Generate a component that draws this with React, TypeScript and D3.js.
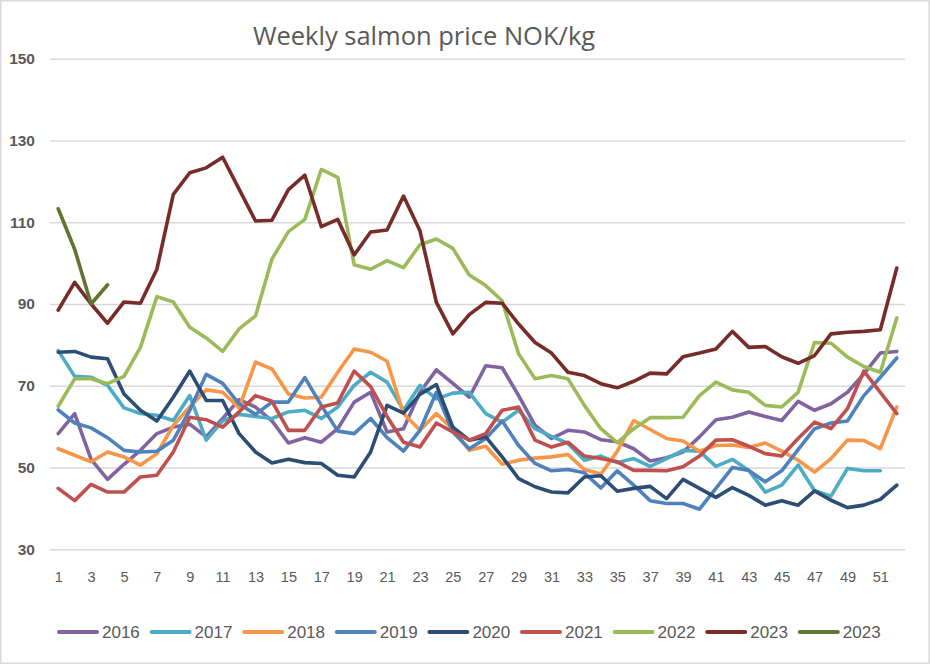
import * as d3 from "d3";
import { useEffect, useRef } from "react";

const weeks = [
  1, 2, 3, 4, 5, 6, 7, 8, 9, 10, 11, 12, 13, 14, 15, 16, 17, 18, 19, 20, 21, 22, 23, 24, 25, 26,
  27, 28, 29, 30, 31, 32, 33, 34, 35, 36, 37, 38, 39, 40, 41, 42, 43, 44, 45, 46, 47, 48, 49, 50,
  51, 52,
];
const yTicks = [30, 50, 70, 90, 110, 130, 150];
const xTickLabels = [1, 3, 5, 7, 9, 11, 13, 15, 17, 19, 21, 23, 25, 27, 29, 31, 33, 35, 37, 39, 41, 43, 45, 47, 49, 51];

const s2016 = [
  58.3, 63.2, 52, 47.1, 50.8, 54.2, 58.3, 59.9, 60.6, 57.5, 62, 66.6, 64.8, 61.4, 56, 57.3, 56.2,
  59.5, 66, 68.4, 58.7, 59.5, 68.4, 73.9, 70.6, 67.2, 74.9, 74.4, 67.6, 60.3, 57.1, 59.1, 58.7,
  56.8, 56.3, 54.6, 51.6, 52.4, 53.8, 57.5, 61.7, 62.3, 63.6, 62.5, 61.5, 66.2, 64, 65.6, 68.4,
  72.9, 78, 78.4,
];
const s2017 = [
  78.6, 72.3, 72.1, 70.1, 64.6, 63.2, 62.8, 61.5, 67.6, 56.7, 61.4, 63, 62.5, 62, 63.6, 64, 62,
  64.8, 70.1, 73.3, 70.9, 64, 70.1, 66.8, 68.2, 68.4, 63.2, 61.1, 64, 59.5, 57.6, 55.9, 51.8, 52.8,
  51.2, 52.2, 50.3, 52.2, 54.2, 54, 50.3, 52, 49.3, 44, 45.7, 50.6, 44.3, 43, 49.8, 49.2, 49.2,
];
const s2018 = [
  54.6, 53, 51.4, 53.8, 52.6, 50.6, 53.4, 60.3, 64.8, 69, 68.4, 64.6, 75.8, 74.1, 68, 67, 67.2,
  73.3, 79, 78.2, 76, 63.2, 59.1, 63.2, 59.3, 54.2, 55.2, 50.8, 51.8, 52.3, 52.6, 53.2, 49.5, 48.4,
  54, 61.5, 59.3, 57.1, 56.5, 54, 55.4, 55.5, 54.9, 56, 54, 51.8, 48.9, 52.2, 56.7, 56.6, 54.6, 64.8,
];
const s2019 = [
  64.1, 60.9, 59.7, 57.3, 54.2, 53.8, 54, 56.7, 64, 72.8, 70.6, 65.6, 63, 66, 66, 72, 65.2, 58.9,
  58.3, 62, 57.3, 54, 59.1, 68.4, 58.7, 54.6, 57.1, 61.4, 55.4, 51, 49.2, 49.5, 48.7, 45, 49.2,
  45.7, 41.9, 41.2, 41.2, 39.8, 44.9, 50, 49.3, 46.5, 49.2, 54.4, 59.5, 60.9, 61.4, 67.6, 72.1, 76.8,
];
const s2020 = [
  78.2, 78.4, 77, 76.6, 68, 64, 61.4, 67.2, 73.6, 66.4, 66.4, 58.3, 53.8, 51.1, 52, 51.2, 51, 48.1,
  47.7, 53.8, 65.2, 63.3, 67.9, 70.3, 59.9, 56.7, 57.5, 52.6, 47.3, 45.3, 44, 43.8, 47.7, 48, 44.2,
  44.9, 45.4, 42.4, 47.1, 44.9, 42.7, 45.1, 43.2, 40.8, 41.9, 40.8, 44.3, 42, 40.2, 40.8, 42.2, 45.7,
];
const s2021 = [
  44.9, 41.9, 45.9, 44, 44, 47.7, 48.1, 53.8, 62.3, 61.7, 59.9, 63.6, 67.6, 66.2, 59.1, 59.1, 64.8,
  65.8, 73.6, 69.8, 62.5, 56.2, 55, 60.9, 58.7, 56.7, 58.3, 64, 64.8, 56.7, 55, 56.2, 52.8, 52.2,
  51.4, 49.3, 49.3, 49.2, 50.2, 52.8, 56.7, 56.8, 55.2, 53.4, 52.8, 57.1, 61.1, 59.5, 64.4, 73.6,
  68.4, 63.2,
];
const s2022 = [
  65, 71.7, 71.7, 70.5, 72.3, 79.4, 91.8, 90.5, 84.3, 81.7, 78.4, 83.9, 87.1, 101, 107.7, 110.7,
  122.9, 121, 99.6, 98.5, 100.6, 98.9, 104.5, 105.9, 103.6, 97.1, 94.5, 90.8, 77.8, 71.7, 72.5,
  71.7, 65.2, 59.5, 56.1, 59.5, 62.2, 62.2, 62.3, 67.6, 70.9, 69, 68.4, 65.2, 64.8, 68.4, 80.6,
  80.4, 77, 74.7, 73.3, 86.6,
];
const s2023 = [
  88.5, 95.3, 90, 85.3, 90.5, 90.2, 98.5, 116.8, 122.1, 123.3, 125.9, 118.1, 110.3, 110.5, 118,
  121.5, 108.9, 110.7, 102, 107.6, 108.1, 116.4, 107.9, 90.4, 82.7, 87.4, 90.4, 90.2, 85.1, 80.6,
  78, 73.3, 72.5, 70.5, 69.5, 71.1, 73.1, 72.9, 77.1, 78, 79, 83.3, 79.4, 79.6, 77.1, 75.5, 77.4,
  82.7, 83.1, 83.3, 83.7, 98.8,
];
const s2023b = [113.3, 103.4, 90, 94.7];

const seriesNames = ["2016", "2017", "2018", "2019", "2020", "2021", "2022", "2023", "2023"];
const seriesValues = [s2016, s2017, s2018, s2019, s2020, s2021, s2022, s2023, s2023b];
const seriesColors = [
  "#8064A2", "#4BACC6", "#F79646", "#4F81BD", "#2C4D75", "#C0504D", "#9BBB59", "#772C2A", "#5F7530",
];

export default function App() {
  const svgRef = useRef<SVGSVGElement | null>(null);

  useEffect(() => {
    document.body.style.margin = "0";
    if (!svgRef.current) return;
    const svg = d3.select(svgRef.current);
    const width = 930;
    const height = 664;
    const margin = { top: 58.7, right: 25, bottom: 114.7, left: 50 };
    const font = "Liberation Sans, Arial, sans-serif";

    svg.selectAll("*").remove();
    svg.attr("viewBox", `0 0 ${width} ${height}`);

    svg
      .append("rect")
      .attr("x", 0.75)
      .attr("y", 0.75)
      .attr("width", width - 1.5)
      .attr("height", height - 1.5)
      .attr("fill", "#fff")
      .attr("stroke", "#D9D9D9")
      .attr("stroke-width", 1.5);

    const x = d3
      .scalePoint<number>()
      .domain(weeks)
      .range([margin.left, width - margin.right])
      .padding(0.5);

    const y = d3
      .scaleLinear()
      .domain([30, 150])
      .range([height - margin.bottom, margin.top]);

    // gridlines + y labels
    const yAxis = d3
      .axisLeft(y)
      .tickValues(yTicks)
      .tickSize(-(width - margin.left - margin.right))
      .tickPadding(15);
    const yg = svg
      .append("g")
      .attr("transform", `translate(${margin.left},0)`)
      .call(yAxis as any);
    yg.select(".domain").remove();
    yg.selectAll("line").attr("stroke", "#D9D9D9").attr("stroke-width", 1.5);
    yg.selectAll("text")
      .attr("fill", "#595959")
      .attr("font-family", font)
      .attr("font-weight", "bold")
      .attr("font-size", 15.5);

    // x labels
    const xAxis = d3
      .axisBottom(x)
      .tickValues(xTickLabels)
      .tickSize(0)
      .tickPadding(22);
    const xg = svg
      .append("g")
      .attr("transform", `translate(0,${height - margin.bottom})`)
      .call(xAxis as any);
    xg.select(".domain").remove();
    xg.selectAll("text")
      .attr("fill", "#595959")
      .attr("font-family", font)
      .attr("font-size", 14.5);

    const line = d3
      .line<number>()
      .x((_, i) => x(weeks[i]) as number)
      .y((d) => y(d));

    seriesValues.forEach((vals, i) => {
      svg
        .append("path")
        .datum(vals)
        .attr("fill", "none")
        .attr("stroke", seriesColors[i])
        .attr("stroke-width", 3.6)
        .attr("stroke-linejoin", "round")
        .attr("stroke-linecap", "round")
        .attr("d", line as any);
    });

    svg
      .append("text")
      .attr("x", 424)
      .attr("y", 45)
      .attr("text-anchor", "middle")
      .attr("fill", "#595959")
      .attr("font-family", "Open Sans, sans-serif")
      .attr("font-size", 25.5)
      .text("Weekly salmon price NOK/kg");

    // legend
    const legend = svg.append("g").attr("transform", "translate(57,632)");
    seriesNames.forEach((name, i) => {
      const g = legend.append("g").attr("transform", `translate(${i * 92.6},0)`);
      g.append("line")
        .attr("x1", 2)
        .attr("x2", 40)
        .attr("stroke", seriesColors[i])
        .attr("stroke-width", 4)
        .attr("stroke-linecap", "round");
      g.append("text")
        .attr("x", 45)
        .attr("y", 6)
        .attr("fill", "#595959")
        .attr("font-family", font)
        .attr("font-size", 17)
        .text(name);
    });
  }, []);

  return <svg ref={svgRef} width={930} height={664} style={{ display: "block" }} />;
}
